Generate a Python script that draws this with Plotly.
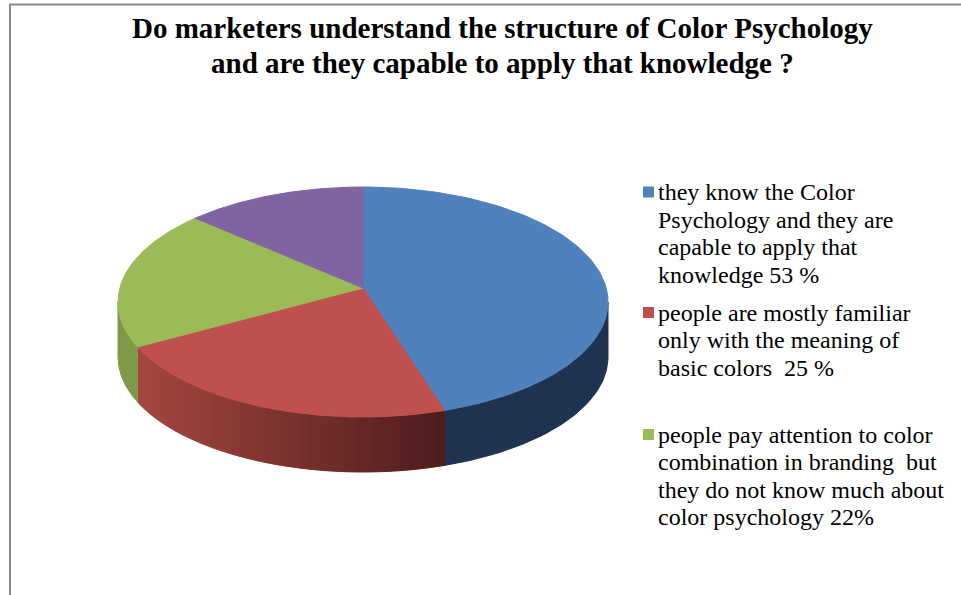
import numpy as np
import plotly.graph_objects as go

# ---------------- data ----------------
categories = [
    "they know the Color Psychology and they are capable to apply that knowledge 53 %",
    "people are mostly familiar only with the meaning of basic colors  25 %",
    "people pay attention to color combination in branding  but they do not know much about color psychology 22%",
    "other",
]
values = [44.6, 24, 19.4, 12]      # slice shares
legend_lines = [
    ["they know the Color", "Psychology and they are", "capable to apply that", "knowledge 53 %"],
    ["people are mostly familiar", "only with the meaning of", "basic colors  25 %"],
    ["people pay attention to color", "combination in branding  but",
     "they do not know much about", "color psychology 22%"],
]
title_lines = ["Do marketers understand the structure of Color Psychology",
               "and are they capable to apply that knowledge ?"]

# ---------------- style ----------------
top_colors = ["#4F81BD", "#C0504D", "#9BBB59", "#8064A2"]
side_colors = ["#1F3350", None, "#7E9A47", "#5E4A78"]
red_grad = ("#A5463F", "#4E1C1C")   # left -> right

CX, CY, RX, RY, DEPTH, APEX_DY = 363, 302, 245, 115, 55, -14
FONT = "Liberation Serif"

fig = go.Figure()


def rim(th, dy=0.0):
    t = np.radians(th)
    return CX + RX * np.sin(t), CY - RY * np.cos(t) + dy


def hex2rgb(h):
    h = h.lstrip("#")
    return tuple(int(h[i:i + 2], 16) for i in (0, 2, 4))


def mix(c1, c2, f):
    a, b = hex2rgb(c1), hex2rgb(c2)
    return "rgb(%d,%d,%d)" % tuple(round(a[i] + (b[i] - a[i]) * f) for i in range(3))


def poly(xs, ys, color):
    fig.add_trace(go.Scatter(x=xs, y=ys, fill="toself", fillcolor=color, mode="lines",
                             line=dict(color=color, width=1), hoverinfo="skip", showlegend=False))


fracs = np.array(values, dtype=float) / sum(values)
bounds = np.concatenate([[0], np.cumsum(fracs) * 360])

# sides (front half only: 90..270 deg clockwise from top)
for i in range(len(values)):
    s, e = max(bounds[i], 90), min(bounds[i + 1], 270)
    if s >= e:
        continue
    if side_colors[i] is None:  # gradient side, darker towards the right
        n = 40
        edges = np.linspace(s, e, n + 1)
        x_lo, x_hi = rim(e)[0], rim(s)[0]
        for k in range(n):
            th = np.linspace(edges[k], edges[k + 1], 6)
            x1, y1 = rim(th)
            x2, y2 = rim(th[::-1], DEPTH)
            f = (np.mean(x1) - x_lo) / (x_hi - x_lo)
            poly(np.concatenate([x1, x2, x1[:1]]), np.concatenate([y1, y2, y1[:1]]),
                 mix(red_grad[0], red_grad[1], f))
    else:
        th = np.linspace(s, e, 80)
        x1, y1 = rim(th)
        x2, y2 = rim(th[::-1], DEPTH)
        poly(np.concatenate([x1, x2, x1[:1]]), np.concatenate([y1, y2, y1[:1]]), side_colors[i])

# top faces
for i in range(len(values)):
    th = np.linspace(bounds[i], bounds[i + 1], 120)
    x, y = rim(th)
    xs = np.concatenate([[CX], x, [CX]])
    ys = np.concatenate([[CY + APEX_DY], y, [CY + APEX_DY]])
    poly(xs, ys, top_colors[i])

# ---------------- legend (manual, one annotation per line) ----------------
leg_x, box_x, box_half = 656, 648.5, 5.5
first_line_y = [192, 312.5, 434.5]
line_step = 27.6
shapes = []
for i, lines in enumerate(legend_lines):
    for j, ln in enumerate(lines):
        fig.add_annotation(x=leg_x, y=first_line_y[i] + j * line_step, xref="x", yref="y",
                           text=ln, showarrow=False, xanchor="left", yanchor="middle",
                           font=dict(family=FONT, size=24, color="black"))
    shapes.append(dict(type="rect", xref="x", yref="y", x0=box_x - box_half, x1=box_x + box_half,
                       y0=first_line_y[i] - box_half, y1=first_line_y[i] + box_half,
                       fillcolor=top_colors[i], line=dict(width=0)))

# title
for j, ln in enumerate(title_lines):
    fig.add_annotation(x=502, y=28 + j * 35, xref="x", yref="y", text="<b>%s</b>" % ln,
                       showarrow=False, xanchor="center", yanchor="middle",
                       font=dict(family=FONT, size=29, color="black"))

# chart border (left and top visible)
shapes.append(dict(type="line", xref="x", yref="y", x0=10, x1=10, y0=4.5, y1=600,
                   line=dict(color="#8A8A8A", width=2)))
shapes.append(dict(type="line", xref="x", yref="y", x0=9, x1=970, y0=4.5, y1=4.5,
                   line=dict(color="#8A8A8A", width=2)))

fig.update_layout(
    width=961, height=595, margin=dict(l=0, r=0, t=0, b=0),
    paper_bgcolor="white", plot_bgcolor="white", showlegend=False,
    xaxis=dict(range=[0, 961], visible=False, fixedrange=True),
    yaxis=dict(range=[595, 0], visible=False, fixedrange=True),
    shapes=shapes,
)

fig.write_html("out.html", config={"displayModeBar": False},
               post_script="document.body.style.margin='0';document.body.style.overflow='hidden';")
